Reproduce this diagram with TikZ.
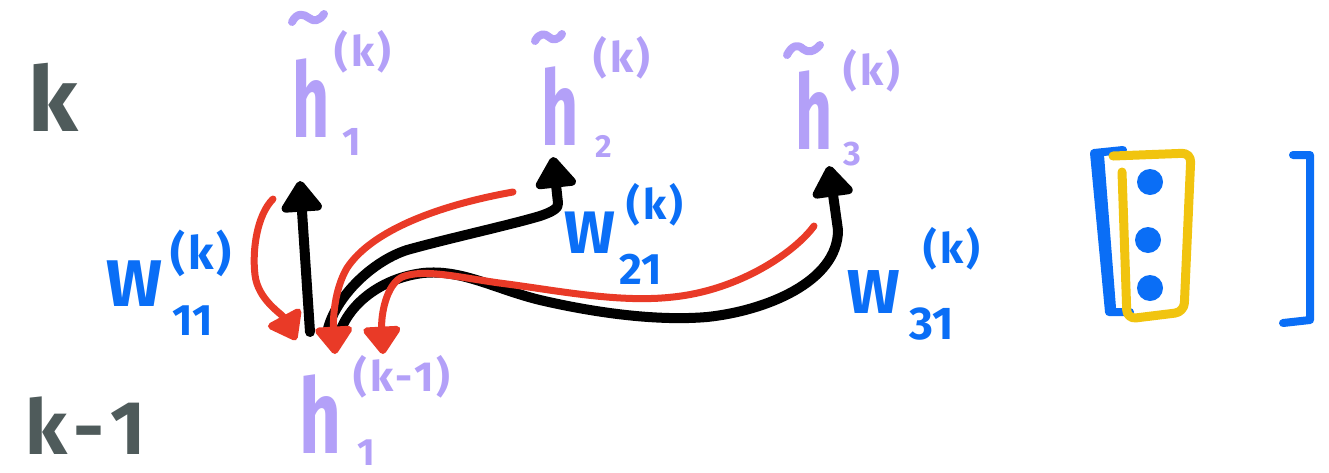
\documentclass[tikz,border=0pt]{standalone}
\usepackage{fontspec}
\usepackage{graphicx}
\setmainfont{Fira Sans}
\usetikzlibrary{arrows.meta}
\definecolor{greyk}{HTML}{4F5B5B}
\definecolor{lav}{HTML}{B3A0F8}
\definecolor{bluew}{HTML}{0A6EF6}
\definecolor{redc}{HTML}{E93A27}
\definecolor{yellowc}{HTML}{F1C40F}
\newcommand{\fsz}[1]{\fontsize{#1}{#1}\selectfont}
\begin{document}
\begin{tikzpicture}[x=1pt,y=-1pt,
  lavtxt/.style={text=lav, inner sep=0pt, font=\bfseries\fsz{#1}},
  bluetxt/.style={text=bluew, inner sep=0pt, font=\bfseries\fsz{#1}},
  greytxt/.style={text=greyk, inner sep=0pt, font=\bfseries\fsz{#1}},
  tildeline/.style={draw=lav, line width=8pt, line cap=round, line join=round},
  blackline/.style={draw=black, line width=10pt, line cap=round, line join=round},
  blackarrow/.style={blackline, -{Triangle[length=34pt,width=46pt,round]}},
  redarrow/.style={draw=redc, line width=7pt, line cap=round, line join=round, -{Triangle[length=30pt,width=42pt,round]}},
  bracketline/.style={draw=bluew, line width=8pt, line cap=round, line join=round},
  boxline/.style={draw=yellowc, line width=9pt, line cap=round, line join=round, rounded corners=9pt},
  dotc/.style={fill=bluew}
]
\useasboundingbox (0,0) rectangle (1329,472);

% layer labels
\node[greytxt=90] (lk) at (53,97) {k};
\node[greytxt=76] (lkm) at (86,426) {k\kern6pt-\kern6pt1};

% h-tilde 1
\node[lavtxt=104] (h1) at (311,98) {\scalebox{0.62}[1]{h}};
\node[lavtxt=42] (h1sup) at (363,52) {(\kern3pt k\kern3pt)};
\node[lavtxt=40] (h1sub) at (352,142) {1};
\draw[tildeline] (292,22) .. controls (297,12) and (304,14) .. (309,18) .. controls (314,22) and (319,21) .. (324,14);

% h-tilde 2
\node[lavtxt=104] (h2) at (560,106) {\scalebox{0.62}[1]{h}};
\node[lavtxt=42] (h2sup) at (622,58) {(\kern3pt k\kern3pt)};
\node[lavtxt=32] (h2sub) at (604,146) {2};
\draw[tildeline] (535,41) .. controls (539,33) and (545,33) .. (549,37) .. controls (553,41) and (558,40) .. (562,34);

% h-tilde 3
\node[lavtxt=104] (h3) at (814,110) {\scalebox{0.62}[1]{h}};
\node[lavtxt=42] (h3sup) at (872,71) {(\kern3pt k\kern3pt)};
\node[lavtxt=34] (h3sub) at (852,154) {3};
\draw[tildeline] (787,55) .. controls (792,45) and (798,44) .. (803,49) .. controls (808,53) and (814,52) .. (820,45);

% h 1 (k-1)
\node[lavtxt=104] (h1b) at (320,414) {\scalebox{0.7}[1]{h}};
\node[lavtxt=42] (h1bsup) at (402,377) {(\kern3pt k\kern2pt-\kern2pt1\kern3pt)};
\node[lavtxt=38] (h1bsub) at (366,453) {1};

% weights
\node[bluetxt=66] (w1) at (134,284) {W};
\node[bluetxt=46] (w1sup) at (201,253) {(\kern3pt k\kern3pt)};
\node[bluetxt=44] (w1sub) at (193,321) {11};

\node[bluetxt=60] (w2) at (590,233) {W};
\node[bluetxt=42] (w2sup) at (655,205) {(\kern3pt k\kern3pt)};
\node[bluetxt=44] (w2sub) at (641,269) {21};

\node[bluetxt=62] (w3) at (874,292) {W};
\node[bluetxt=42] (w3sup) at (952,249) {(\kern3pt k\kern3pt)};
\node[bluetxt=46] (w3sub) at (932,324) {31};

% connector end points
\coordinate (b1) at (310,332);
\coordinate (t1) at (300,181);
\coordinate (b2) at (327,333);
\coordinate (t2) at (553,157);
\coordinate (b3) at (340,332);
\coordinate (t3) at (829,166);
\coordinate (r1s) at (273,199);
\coordinate (r1e) at (296,340);
\coordinate (r2s) at (513,192);
\coordinate (r2e) at (335,354);
\coordinate (r3s) at (814,226);
\coordinate (r3e) at (383,354);

% black arrows (forward)
\draw[blackarrow] (b1) -- (t1);
\draw[blackarrow] (b2) .. controls (333,300) and (370,262) .. (407,250)
   .. controls (450,238) and (510,225) .. (540,216)
   .. controls (552,212) and (559,208) .. (558,203) -- (t2);
\draw[blackarrow] (b3) .. controls (350,303) and (382,278) .. (423,273)
   .. controls (462,269) and (495,289) .. (540,300)
   .. controls (600,314) and (660,321) .. (707,317)
   .. controls (765,311) and (838,282) .. (838,230) -- (t3);

% red arrows (backward)
\draw[redarrow] (r1s) .. controls (257,215) and (252,250) .. (255,275)
   .. controls (258,300) and (282,314) .. (r1e);
\draw[redarrow] (r2s) .. controls (440,205) and (372,230) .. (347,268)
   .. controls (334,290) and (333,320) .. (r2e);
\draw[redarrow] (r3s) .. controls (795,252) and (740,290) .. (673,297)
   .. controls (620,303) and (560,291) .. (507,284)
   .. controls (460,278) and (425,268) .. (402,277)
   .. controls (386,285) and (381,315) .. (r3e);

% vector on the right
\draw[bracketline] (1123,150) -- (1094,153) -- (1109,312) -- (1130,312);
\draw[bracketline] (1100,155) -- (1112,308);
\draw[boxline] (1113,156) -- (1191,153) -- (1184,312) -- (1127,319) -- (1122,172);
\fill[dotc] (1150,182) circle (13pt);
\fill[dotc] (1148,240) circle (13pt);
\fill[dotc] (1150,288) circle (13pt);
\draw[bracketline] (1293,155) -- (1310,155) -- (1310,320) -- (1283,323);
\end{tikzpicture}
\end{document}
